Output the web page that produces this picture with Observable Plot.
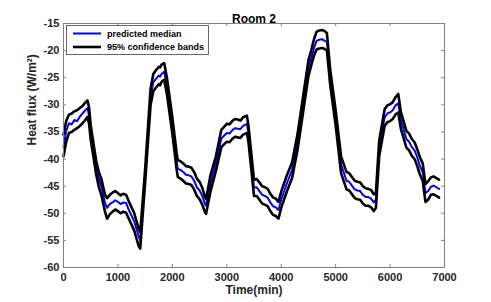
<!DOCTYPE html>
<html><head><meta charset="utf-8">
<script src="https://cdn.jsdelivr.net/npm/d3@7"></script>
<script src="https://cdn.jsdelivr.net/npm/@observablehq/plot@0.6"></script>
<style>body{margin:0;background:#fff;}</style>
</head><body><div id="chart"></div>
<script>
const time   = [0,50,100,150,200,250,300,350,400,440,470,500,600,650,700,760,800,850,900,950,1000,1050,1100,1150,1200,1300,1380,1410,1500,1600,1650,1700,1725,1750,1775,1800,1850,1900,2000,2080,2100,2150,2200,2250,2300,2350,2400,2450,2500,2550,2600,2620,2700,2800,2900,3000,3050,3100,3150,3200,3250,3300,3370,3400,3500,3550,3600,3650,3700,3750,3800,3850,3900,3950,4000,4100,4200,4300,4400,4500,4550,4600,4650,4700,4750,4800,4840,4900,5000,5100,5200,5250,5300,5350,5400,5450,5500,5550,5600,5650,5700,5740,5800,5900,5950,6000,6050,6100,6150,6200,6300,6350,6400,6450,6500,6550,6600,6650,6700,6750,6800,6850,6900];
const median = [-37.8,-34.8,-33.4,-33.6,-32.8,-33.0,-32.2,-31.6,-31.0,-30.6,-32.0,-35.0,-41.5,-43.7,-45.2,-48.0,-49.0,-48.3,-48.0,-47.6,-47.9,-48.3,-48.0,-48.1,-49.4,-51.5,-54.2,-55.0,-43.0,-28.5,-25.8,-25.2,-24.9,-24.6,-24.8,-24.3,-23.9,-26.5,-33.8,-40.5,-41.8,-42.0,-42.4,-42.9,-43.0,-43.2,-44.0,-45.2,-45.8,-46.8,-48.3,-48.6,-44.5,-40.8,-36.2,-35.2,-35.3,-34.7,-34.3,-34.4,-34.5,-33.9,-33.5,-35.5,-45.3,-45.2,-45.9,-46.6,-46.8,-47.1,-48.0,-48.7,-48.9,-49.4,-47.5,-44.6,-42.0,-36.8,-30.0,-23.2,-21.5,-19.6,-18.2,-18.0,-17.9,-18.2,-18.4,-24.8,-32.3,-41.0,-44.0,-44.2,-44.9,-45.6,-45.8,-45.9,-46.6,-47.0,-47.0,-47.3,-48.0,-47.5,-38.0,-32.3,-31.6,-31.4,-31.0,-30.1,-29.7,-32.9,-36.3,-36.8,-37.8,-38.4,-39.7,-41.3,-42.4,-46.3,-45.9,-45.1,-44.9,-45.2,-45.5];
const upper  = [-35.5,-33.0,-31.8,-31.6,-31.2,-31.0,-30.6,-30.2,-29.6,-29.2,-30.5,-33.8,-40.3,-42.4,-43.8,-46.5,-47.2,-46.6,-46.2,-45.9,-46.3,-46.7,-46.4,-46.6,-47.8,-50.0,-52.8,-53.5,-41.8,-27.0,-24.3,-23.6,-23.3,-23.0,-23.1,-22.6,-22.3,-25.0,-32.3,-39.0,-40.2,-40.4,-40.8,-41.3,-41.4,-41.6,-42.4,-43.6,-44.2,-45.3,-47.0,-47.4,-43.0,-39.5,-34.6,-33.5,-33.6,-33.0,-32.6,-32.7,-32.9,-32.3,-32.0,-34.0,-43.8,-43.7,-44.3,-45.0,-45.2,-45.5,-46.4,-47.1,-47.3,-47.9,-46.0,-43.1,-40.6,-35.4,-28.6,-21.8,-20.0,-18.0,-16.5,-16.3,-16.2,-16.4,-16.8,-23.5,-31.0,-39.5,-42.4,-42.6,-43.3,-44.0,-44.2,-44.3,-45.0,-45.4,-45.5,-45.7,-46.5,-46.2,-36.6,-30.8,-30.1,-29.9,-29.5,-28.6,-28.0,-31.4,-34.8,-35.3,-36.3,-36.9,-38.2,-39.7,-40.8,-44.6,-44.1,-43.4,-43.2,-43.5,-43.8];
const lower  = [-39.5,-36.8,-35.2,-35.0,-34.6,-34.3,-33.9,-33.4,-32.8,-32.2,-33.5,-36.4,-42.8,-45.2,-46.8,-49.6,-51.0,-50.2,-49.7,-49.3,-49.6,-50.0,-49.7,-49.9,-51.0,-53.2,-56.0,-56.5,-44.3,-30.0,-27.5,-26.8,-26.5,-26.2,-26.4,-25.8,-25.4,-28.0,-35.3,-42.0,-43.3,-43.6,-44.0,-44.5,-44.6,-44.8,-45.6,-46.8,-47.4,-48.4,-49.8,-50.1,-46.0,-42.2,-37.8,-36.8,-36.9,-36.3,-35.9,-36.0,-36.1,-35.5,-35.2,-37.0,-46.8,-46.8,-47.5,-48.2,-48.4,-48.7,-49.6,-50.3,-50.5,-51.0,-49.0,-46.1,-43.5,-38.3,-31.5,-24.7,-22.8,-21.0,-19.8,-19.6,-19.5,-19.7,-20.0,-26.3,-33.8,-42.6,-45.6,-45.8,-46.5,-47.2,-47.4,-47.5,-48.2,-48.6,-48.6,-48.9,-49.6,-49.0,-39.5,-33.9,-33.2,-33.0,-32.6,-31.8,-31.4,-34.5,-37.9,-38.4,-39.4,-40.0,-41.3,-42.9,-44.0,-47.9,-47.5,-46.6,-46.5,-46.8,-47.1];

const xTicks = [0,1000,2000,3000,4000,5000,6000,7000];
const yTicks = [-60,-55,-50,-45,-40,-35,-30,-25,-20,-15];
const titleText = "Room 2";
const xLabel = "Time(min)";
const yLabel = "Heat flux (W/m²)";
const legendLabels = ["predicted median", "95% confidence bands"];
const seriesColors = ["#0000ff", "#000000"];

const rows = time.map((t, i) => ({t, median: median[i], upper: upper[i], lower: lower[i]}));

const font = "'Liberation Sans', Arial, Helvetica, sans-serif";
const axisColor = "#808080";
const textColor = "#262626";

const plot = Plot.plot({
  width: 491, height: 302,
  marginLeft: 63, marginRight: 47, marginTop: 23, marginBottom: 35,
  style: {fontFamily: font, background: "#fff", overflow: "visible"},
  x: {domain: [0, 7000]},
  y: {domain: [-60, -15]},
  marks: [
    Plot.axisX(xTicks, {tickSize: 0, tickPadding: 6, tickFormat: d => String(d), fontSize: 11, fontWeight: "bold", fill: textColor, label: null}),
    Plot.axisY(yTicks, {tickSize: 0, tickPadding: 4, tickFormat: d => String(d), fontSize: 11, fontWeight: "bold", fill: textColor, label: null}),
    Plot.ruleX(xTicks.slice(1, -1), {x: d => d, y1: -60, y2: -59.45, stroke: axisColor}),
    Plot.ruleX(xTicks.slice(1, -1), {x: d => d, y1: -15, y2: -15.55, stroke: axisColor}),
    Plot.ruleY(yTicks.slice(1, -1), {y: d => d, x1: 0, x2: 55, stroke: axisColor}),
    Plot.ruleY(yTicks.slice(1, -1), {y: d => d, x1: 7000, x2: 6945, stroke: axisColor}),
    Plot.line(rows, {x: "t", y: "median", stroke: seriesColors[0], strokeWidth: 2}),
    Plot.line(rows, {x: "t", y: "upper", stroke: seriesColors[1], strokeWidth: 2.6}),
    Plot.line(rows, {x: "t", y: "lower", stroke: seriesColors[1], strokeWidth: 2.6}),
    Plot.frame({stroke: axisColor}),
    Plot.text([titleText], {text: d => d, frameAnchor: "top", dy: -9, fontSize: 12, fontWeight: "bold", fill: "#000"}),
    Plot.text([xLabel], {text: d => d, frameAnchor: "bottom", dy: 26, fontSize: 12, fontWeight: "bold", fill: textColor}),
    Plot.text([yLabel], {text: d => d, frameAnchor: "left", dx: -31, rotate: -90, fontSize: 12, fontWeight: "bold", fill: textColor})
  ]
});

// legend
const svg = d3.select(plot);
const g = svg.append("g").attr("font-family", font).attr("text-anchor", "start");
g.append("rect").attr("x", 66.5).attr("y", 25.5).attr("width", 142).attr("height", 29)
  .attr("fill", "#fff").attr("stroke", "#444").attr("stroke-width", 0.8);
legendLabels.forEach((lab, i) => {
  const yy = 33.5 + i * 13.5;
  g.append("line").attr("x1", 73).attr("x2", 101).attr("y1", yy).attr("y2", yy)
    .attr("stroke", seriesColors[i]).attr("stroke-width", i ? 2.6 : 2);
  g.append("text").attr("x", 107).attr("y", yy).attr("dy", "0.35em").attr("text-anchor", "start")
    .attr("font-size", 9).attr("font-weight", "bold").attr("fill", "#000").text(lab);
});

document.getElementById("chart").appendChild(plot);
</script>
</body></html>
